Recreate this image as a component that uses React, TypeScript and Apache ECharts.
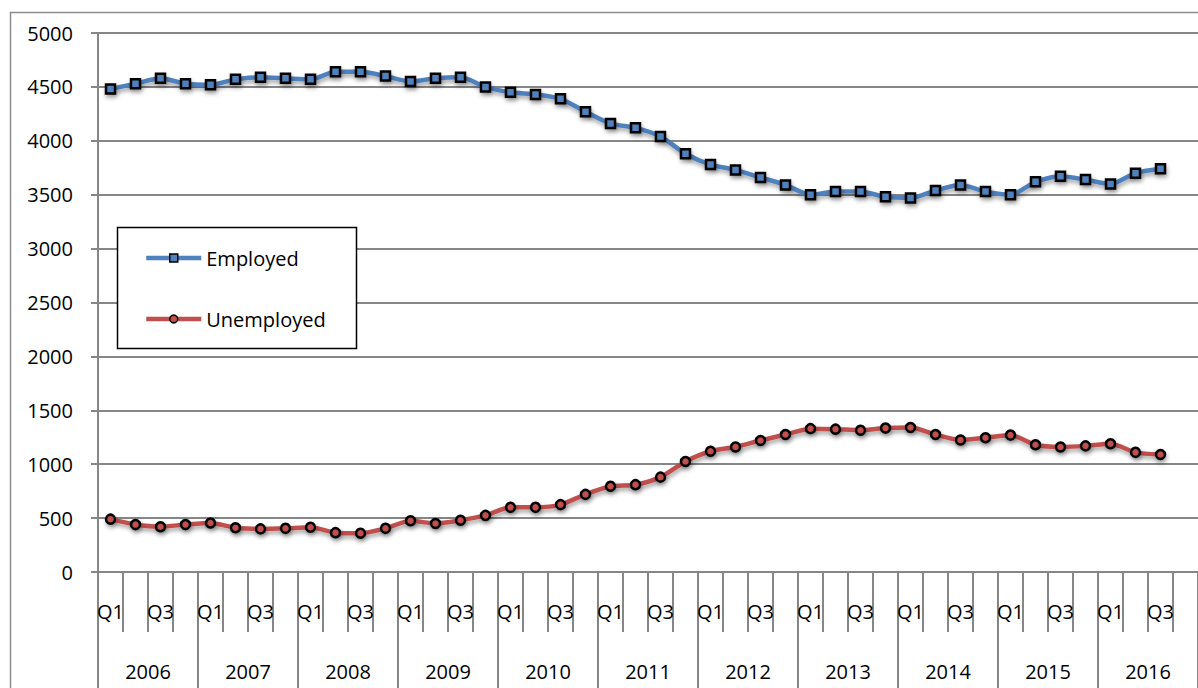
import React, { useEffect, useRef } from "react";
import * as echarts from "echarts";

// Quarterly labour-market figures, 2006 Q1 – 2016 Q3 (thousands)
const years = ["2006", "2007", "2008", "2009", "2010", "2011", "2012", "2013", "2014", "2015", "2016"];
const quarters = ["Q1", "Q2", "Q3", "Q4"];

const employed = [
  4480, 4530, 4580, 4530, 4520, 4570, 4590, 4580, 4570, 4640, 4640, 4600, 4550, 4580, 4590,
  4500, 4450, 4430, 4390, 4270, 4160, 4120, 4040, 3880, 3780, 3730, 3660, 3590, 3500,
  3530, 3530, 3480, 3470, 3540, 3590, 3530, 3500, 3620, 3670, 3640, 3600, 3700, 3740,
];

const unemployed = [
  490, 440, 420, 440, 455, 410, 400, 405, 415, 365, 360, 405, 475, 450, 480,
  525, 600, 600, 625, 720, 795, 810, 880, 1025, 1120, 1160, 1220, 1275, 1330,
  1325, 1315, 1335, 1340, 1275, 1225, 1245, 1270, 1180, 1160, 1170, 1190, 1110, 1090,
];

const yTicks = { min: 0, max: 5000, step: 500 };

const FONT = "'Open Sans', 'Noto Sans', sans-serif";
const FONT_SIZE = 20;
const AXIS_GRAY = "#868686";
const BLUE = "#4F81BD";
const RED = "#C0504D";

const quarterCategories = years.flatMap(() => quarters.map((q) => q));

export default function App() {
  const ref = useRef<HTMLDivElement>(null);

  useEffect(() => {
    if (!ref.current) return;
    const chart = echarts.init(ref.current, null, { renderer: "svg" });

    const shadow = {
      shadowBlur: 4,
      shadowColor: "rgba(0,0,0,0.35)",
      shadowOffsetX: 1,
      shadowOffsetY: 3,
    };
    const noShadow = { shadowBlur: 0, shadowOffsetX: 0, shadowOffsetY: 0, shadowColor: "transparent" };

    chart.setOption({
      animation: false,
      backgroundColor: "#ffffff",
      textStyle: { fontFamily: FONT },
      grid: { left: 98, right: 0, top: 33, bottom: 116, containLabel: false },
      graphic: [
        {
          type: "rect",
          z: 0,
          silent: true,
          shape: { x: 10.5, y: 12.5, width: 1200, height: 700 },
          style: { fill: "none", stroke: "#8c8c8c", lineWidth: 1.5 },
        },
        {
          type: "rect",
          z: 3,
          silent: true,
          shape: { x: 117.5, y: 227.5, width: 239, height: 121 },
          style: { fill: "#ffffff", stroke: "#000000", lineWidth: 1.5 },
        },
      ],
      legend: {
        orient: "vertical",
        left: 144,
        top: 248,
        padding: 0,
        itemWidth: 55,
        itemHeight: 10,
        itemGap: 41,
        z: 5,
        lineStyle: { width: 4.5, ...noShadow },
        itemStyle: { borderWidth: 1.5, ...noShadow },
        textStyle: { fontFamily: FONT, fontSize: FONT_SIZE, color: "#000" },
        data: ["Employed", "Unemployed"],
      },
      xAxis: [
        {
          type: "category",
          position: "bottom",
          data: quarterCategories,
          boundaryGap: true,
          axisLine: { show: true, lineStyle: { color: AXIS_GRAY, width: 2 } },
          axisTick: { show: true, interval: 0, length: 60, lineStyle: { color: AXIS_GRAY, width: 2 } },
          axisLabel: {
            interval: 1,
            margin: 29,
            fontFamily: FONT,
            fontSize: FONT_SIZE,
            color: "#000",
          },
          splitLine: { show: false },
        },
        {
          type: "category",
          position: "bottom",
          data: years,
          boundaryGap: true,
          axisLine: { show: false },
          axisTick: { show: true, interval: 0, length: 120, lineStyle: { color: AXIS_GRAY, width: 2 } },
          axisLabel: {
            interval: 0,
            margin: 89,
            fontFamily: FONT,
            fontSize: FONT_SIZE,
            color: "#000",
          },
          splitLine: { show: false },
        },
      ],
      yAxis: {
        type: "value",
        min: yTicks.min,
        max: yTicks.max,
        interval: yTicks.step,
        axisLine: { show: true, lineStyle: { color: AXIS_GRAY, width: 2 } },
        axisTick: { show: true, length: 7, lineStyle: { color: AXIS_GRAY, width: 2 } },
        axisLabel: {
          margin: 25,
          fontFamily: FONT,
          fontSize: FONT_SIZE,
          color: "#000",
          formatter: (v: number) => String(v),
        },
        splitLine: { show: true, lineStyle: { color: AXIS_GRAY, width: 2 } },
      },
      series: [
        {
          name: "Employed",
          type: "line",
          xAxisIndex: 0,
          data: employed,
          smooth: 0.25,
          symbol: "rect",
          symbolSize: 9,
          lineStyle: { color: BLUE, width: 4.5, ...shadow },
          itemStyle: { color: BLUE, borderColor: "#000", borderWidth: 2.5, ...shadow },
        },
        {
          name: "Unemployed",
          type: "line",
          xAxisIndex: 0,
          data: unemployed,
          smooth: 0.25,
          symbol: "circle",
          symbolSize: 9,
          lineStyle: { color: RED, width: 4.5, ...shadow },
          itemStyle: { color: RED, borderColor: "#000", borderWidth: 2.5, ...shadow },
        },
      ],
    });

    return () => chart.dispose();
  }, []);

  return (
    <div
      ref={ref}
      style={{ position: "fixed", left: 0, top: 0, width: 1198, height: 688 }}
    />
  );
}
